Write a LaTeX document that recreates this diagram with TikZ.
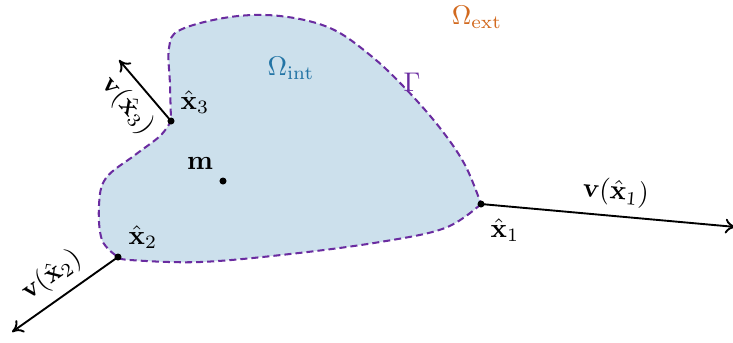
\documentclass[tikz,border=0pt]{standalone}
\usepackage{amsmath,amssymb}
\usetikzlibrary{arrows.meta}
\definecolor{fillblue}{HTML}{CCE0EC}
\definecolor{gammapurple}{HTML}{6A2CA0}
\definecolor{extorange}{HTML}{D2691E}
\definecolor{intblue}{HTML}{2274A5}
\tikzset{
  vecarrow/.style={-{To[length=4pt,width=5.5pt]}, line width=0.7pt, black},
  ptdot/.style={fill=black},
  bnd/.style={draw=gammapurple, line width=0.75pt, dash pattern=on 2.6pt off 1.5pt, fill=fillblue},
}
\begin{document}
\begin{tikzpicture}[x=0.37pt,y=-0.37pt]
\useasboundingbox (0,0) rectangle (733,342);
\coordinate (x1) at (481,204);
\coordinate (x2) at (118,257);
\coordinate (x3) at (171,121);
\coordinate (m) at (223,181);
\coordinate (t1) at (736,227);
\coordinate (t2) at (12,332);
\coordinate (t3) at (119,60);
% domain
\path[bnd] plot[smooth,tension=0.6] coordinates {(481,204) (445,228) (380,242) (290,254) (200,262) (130,260) (118,257)}
  -- plot[smooth,tension=0.6] coordinates {(118,257) (102,240) (99,205) (106,178) (135,155) (160,136) (171,121)}
  -- plot[smooth,tension=0.6] coordinates {(171,121) (170,85) (169,48) (180,30) (230,17) (280,16) (330,28) (370,55) (405,88) (440,128) (465,165) (481,204)}
  -- cycle;
% arrows
\draw[vecarrow] (x1) -- node[above, sloped, pos=0.52] {$\mathbf{v}(\hat{\mathbf{x}}_1)$} (t1);
\draw[vecarrow] (x2) -- node[above, sloped, pos=0.5] {$\mathbf{v}(\hat{\mathbf{x}}_2)$} (t2);
\draw[vecarrow] (x3) -- node[below, sloped, pos=0.5] {$\mathbf{v}(\hat{\mathbf{x}}_3)$} (t3);
% dots
\foreach \p in {x1,x2,x3,m} \fill[ptdot] (\p) circle (1.3pt);
% labels
\node (lx1) at (505,230) {$\hat{\mathbf{x}}_1$};
\node (lx2) at (143,237) {$\hat{\mathbf{x}}_2$};
\node (lx3) at (195,102) {$\hat{\mathbf{x}}_3$};
\node (lm) at (200,163) {$\mathbf{m}$};
\node[text=extorange] (lext) at (477,17) {$\Omega_{\mathrm{ext}}$};
\node[text=intblue] (lint) at (291,68) {$\Omega_{\mathrm{int}}$};
\node[text=gammapurple] (lgam) at (412,82) {$\Gamma$};
\end{tikzpicture}
\end{document}
